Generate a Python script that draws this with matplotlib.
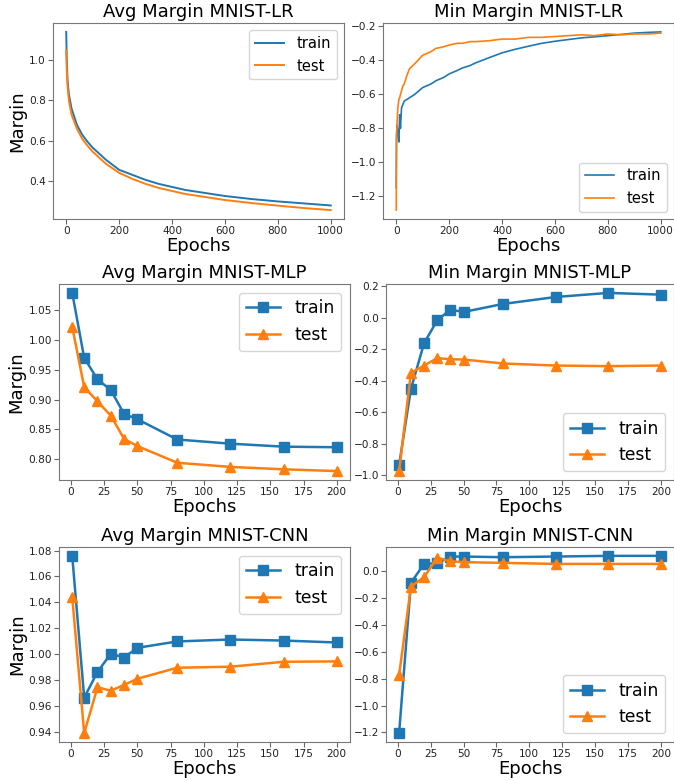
import matplotlib.pyplot as plt
from matplotlib.ticker import MultipleLocator

# ---- MNIST-LR ----
lr_epochs = [0, 2, 5, 10, 20, 40, 60, 80, 100, 150, 200, 250, 300, 350, 400,
             450, 500, 600, 700, 800, 900, 1000]
lr_avg_train = [1.14, 1.00, 0.90, 0.83, 0.76, 0.68, 0.63, 0.595, 0.565, 0.505,
                0.455, 0.43, 0.405, 0.385, 0.37, 0.355, 0.345, 0.325, 0.31,
                0.298, 0.288, 0.278]
lr_avg_test = [1.05, 0.95, 0.87, 0.80, 0.73, 0.66, 0.61, 0.575, 0.545, 0.485,
               0.44, 0.41, 0.385, 0.365, 0.35, 0.335, 0.325, 0.305, 0.29,
               0.277, 0.265, 0.255]

lr_min_epochs = [0, 1, 3, 6, 10, 13, 16, 20, 25, 30, 40, 50, 70, 100, 130, 150,
                 180, 200, 230, 250, 280, 300, 350, 400, 450, 500, 550, 600,
                 650, 700, 750, 800, 850, 900, 950, 1000]
lr_min_train = [-1.15, -0.84, -0.78, -0.82, -0.88, -0.72, -0.80, -0.68, -0.66,
                -0.64, -0.63, -0.62, -0.60, -0.56, -0.54, -0.52, -0.50, -0.48,
                -0.46, -0.445, -0.43, -0.415, -0.385, -0.356, -0.335, -0.317,
                -0.30, -0.288, -0.278, -0.268, -0.262, -0.255, -0.248, -0.24,
                -0.236, -0.233]
lr_min_test = [-1.28, -0.90, -0.78, -0.68, -0.63, -0.62, -0.60, -0.58, -0.55,
               -0.54, -0.49, -0.45, -0.42, -0.37, -0.35, -0.33, -0.32, -0.31,
               -0.30, -0.30, -0.29, -0.29, -0.285, -0.275, -0.275, -0.265,
               -0.265, -0.26, -0.255, -0.25, -0.255, -0.245, -0.25, -0.245,
               -0.245, -0.24]

# ---- MNIST-MLP / MNIST-CNN ----
nn_epochs = [1, 10, 20, 30, 40, 50, 80, 120, 160, 200]
mlp_avg_train = [1.079, 0.970, 0.934, 0.916, 0.876, 0.867, 0.833, 0.826, 0.821, 0.820]
mlp_avg_test = [1.022, 0.921, 0.897, 0.873, 0.834, 0.822, 0.794, 0.787, 0.783, 0.780]
mlp_min_train = [-0.935, -0.451, -0.161, -0.016, 0.052, 0.037, 0.088, 0.132, 0.158, 0.147]
mlp_min_test = [-0.973, -0.349, -0.303, -0.256, -0.263, -0.265, -0.290, -0.303, -0.307, -0.303]
cnn_avg_train = [1.0759, 0.9664, 0.9862, 1.0003, 0.9974, 1.0049, 1.0098, 1.0113, 1.0105, 1.0090]
cnn_avg_test = [1.0441, 0.9390, 0.9744, 0.9718, 0.9762, 0.9810, 0.9895, 0.9903, 0.9941, 0.9944]
cnn_min_train = [-1.205, -0.086, 0.054, 0.059, 0.109, 0.109, 0.104, 0.109, 0.114, 0.114]
cnn_min_test = [-0.773, -0.114, -0.044, 0.099, 0.074, 0.067, 0.062, 0.054, 0.054, 0.054]

W, H = 674, 781
fig = plt.figure(figsize=(W / 100, H / 100), dpi=100)


def box(x0, y0, x1, y1):
    # pixel box (top-left origin) -> figure fraction
    return [x0 / W, 1 - y1 / H, (x1 - x0) / W, (y1 - y0) / H]


def style(ax, title, ylabel=None, legend_loc='upper right', legend_size=12.4, ystep=None):
    ax.set_title(title, fontsize=13, pad=4)
    ax.set_xlabel('Epochs', fontsize=13, labelpad=1)
    if ylabel:
        ax.set_ylabel(ylabel, fontsize=13, labelpad=2)
    if ystep:
        ax.yaxis.set_major_locator(MultipleLocator(ystep))
    ax.tick_params(labelsize=7.6, color='#666666', length=3.5, pad=1.5,
                   labelcolor='#222222')
    for s in ax.spines.values():
        s.set_color('#777777')
    ax.legend(loc=legend_loc, fontsize=legend_size)


C1, C2 = '#1f77b4', '#ff7f0e'

# row 1
ax = fig.add_axes(box(53, 23, 344, 219))
ax.plot(lr_epochs, lr_avg_train, color=C1, lw=1.4, label='train')
ax.plot(lr_epochs, lr_avg_test, color=C2, lw=1.4, label='test')
style(ax, 'Avg Margin MNIST-LR', 'Margin', 'upper right', 10.6, 0.2)

ax = fig.add_axes(box(383, 23, 674, 219))
ax.plot(lr_min_epochs, lr_min_train, color=C1, lw=1.2, label='train')
ax.plot(lr_min_epochs, lr_min_test, color=C2, lw=1.2, label='test')
style(ax, 'Min Margin MNIST-LR', None, 'lower right', 10.6, 0.2)

# row 2
mk = dict(lw=1.8, markersize=6.5)
ax = fig.add_axes(box(59, 284, 350, 480))
ax.plot(nn_epochs, mlp_avg_train, color=C1, marker='s', label='train', **mk)
ax.plot(nn_epochs, mlp_avg_test, color=C2, marker='^', label='test', **mk)
style(ax, 'Avg Margin MNIST-MLP', 'Margin', 'upper right', ystep=0.05)

ax = fig.add_axes(box(386, 284, 674, 480))
ax.plot(nn_epochs, mlp_min_train, color=C1, marker='s', label='train', **mk)
ax.plot(nn_epochs, mlp_min_test, color=C2, marker='^', label='test', **mk)
style(ax, 'Min Margin MNIST-MLP', None, 'lower right', ystep=0.2)

# row 3
ax = fig.add_axes(box(59, 547, 350, 742))
ax.plot(nn_epochs, cnn_avg_train, color=C1, marker='s', label='train', **mk)
ax.plot(nn_epochs, cnn_avg_test, color=C2, marker='^', label='test', **mk)
style(ax, 'Avg Margin MNIST-CNN', 'Margin', 'upper right', ystep=0.02)

ax = fig.add_axes(box(386, 547, 674, 742))
ax.plot(nn_epochs, cnn_min_train, color=C1, marker='s', label='train', **mk)
ax.plot(nn_epochs, cnn_min_test, color=C2, marker='^', label='test', **mk)
style(ax, 'Min Margin MNIST-CNN', None, 'lower right', ystep=0.2)

fig.savefig('out.png', dpi=100)
